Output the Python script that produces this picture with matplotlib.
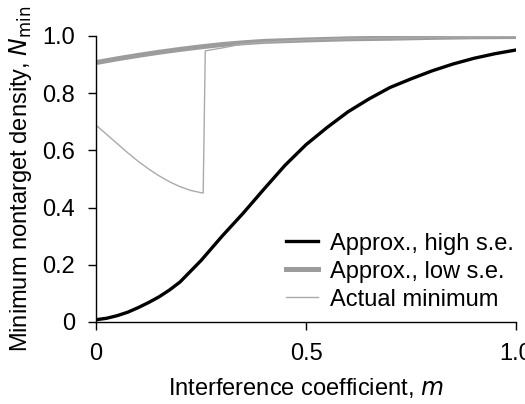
import matplotlib
matplotlib.use('Agg')
import matplotlib.pyplot as plt

plt.rcParams['font.family'] = ['Liberation Sans', 'DejaVu Sans']

# Approx., high s.e.
m_high = [0, 0.025, 0.05, 0.075, 0.1, 0.125, 0.15, 0.175, 0.2, 0.25, 0.3, 0.35, 0.4,
          0.45, 0.5, 0.55, 0.6, 0.65, 0.7, 0.75, 0.8, 0.85, 0.9, 0.95, 1.0]
n_high = [0.008, 0.013, 0.022, 0.034, 0.05, 0.068, 0.088, 0.112, 0.14, 0.215, 0.30, 0.38, 0.465,
          0.548, 0.62, 0.68, 0.735, 0.78, 0.82, 0.85, 0.878, 0.902, 0.922, 0.938, 0.951]

# Approx., low s.e.
m_low = [0, 0.05, 0.1, 0.15, 0.2, 0.25, 0.3, 0.35, 0.4, 0.5, 0.6, 0.7, 0.8, 0.9, 1.0]
n_low = [0.907, 0.92, 0.932, 0.943, 0.953, 0.962, 0.97, 0.976, 0.981, 0.986, 0.99, 0.992, 0.995, 0.997, 0.998]

# Actual minimum
m_act = [0, 0.025, 0.05, 0.075, 0.1, 0.125, 0.15, 0.175, 0.2, 0.225, 0.25, 0.255,
         0.26, 0.3, 0.345, 0.4, 0.5, 0.6, 0.7, 0.8, 0.9, 1.0]
n_act = [0.688, 0.656, 0.624, 0.592, 0.562, 0.535, 0.511, 0.49, 0.473, 0.46, 0.452, 0.451,
         0.948, 0.958, 0.971, 0.978, 0.986, 0.99, 0.992, 0.995, 0.997, 0.998]

fig = plt.figure(figsize=(5.25, 4.04), dpi=100)
ax = fig.add_axes([0.183, 0.203, 0.8, 0.708])

ax.plot(m_high, n_high, color='black', lw=2.4, label='Approx., high s.e.', zorder=3,
        solid_joinstyle='round')
ax.plot(m_low, n_low, color='#9c9c9c', lw=3.6, label='Approx., low s.e.', zorder=2,
        solid_joinstyle='round')
ax.plot(m_act, n_act, color='#aaaaaa', lw=1, label='Actual minimum', zorder=2)

ax.set_xlim(0, 1.0)
ax.set_ylim(0, 1.0)
ax.set_xticks([0, 0.5, 1.0])
ax.set_xticklabels(['0', '0.5', '1.0'])
ax.set_yticks([0, 0.2, 0.4, 0.6, 0.8, 1.0])
ax.set_yticklabels(['0', '0.2', '0.4', '0.6', '0.8', '1.0'])
ax.tick_params(direction='out', length=6, width=1, labelsize=17, pad=9)
ax.spines['top'].set_visible(False)
ax.spines['right'].set_visible(False)
for s in ['left', 'bottom']:
    ax.spines[s].set_linewidth(1)

ax.set_xlabel('Interference coefficient, $\\it{m}$', fontsize=17, labelpad=8)
ax.set_ylabel('Minimum nontarget density, $\\it{N}_{\\rm min}$', fontsize=17, labelpad=6)

leg = ax.legend(loc='lower right', frameon=False, fontsize=17, handlelength=1.35,
                labelspacing=0.25, handletextpad=0.5, borderaxespad=0.4,
                bbox_to_anchor=(1.04, -0.026))

fig.savefig('out.png', dpi=100)
